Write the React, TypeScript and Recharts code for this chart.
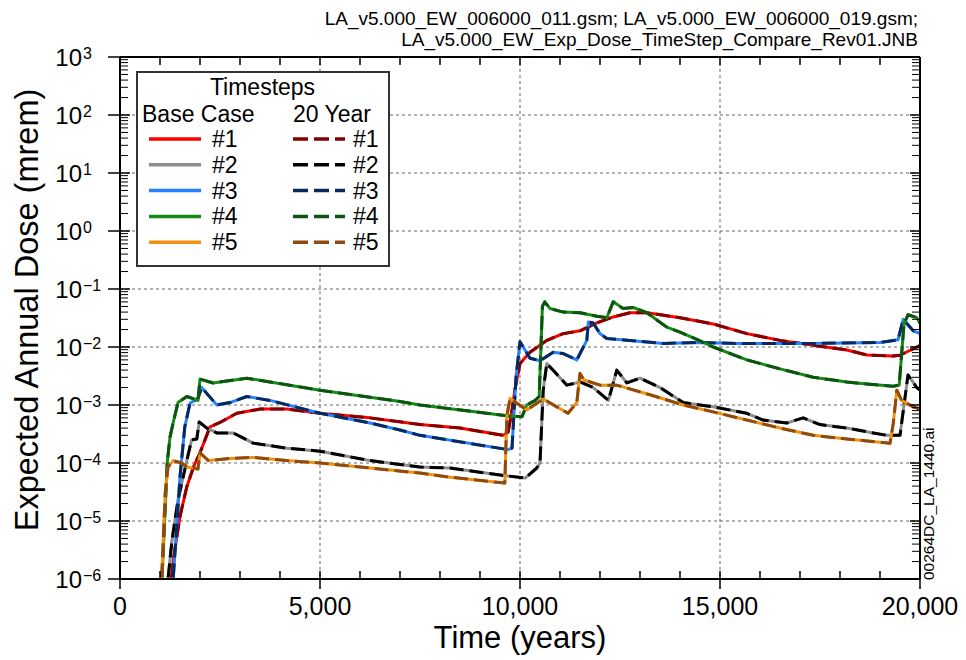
import { CartesianGrid, Legend, Line, LineChart, XAxis, YAxis } from "recharts";

const FONT = "'Liberation Sans', Arial, sans-serif";

// [time (years), expected annual dose (mrem)]
const dose1: [number, number][] = [
  [1150, 1e-7], [1330, 2.1e-6], [1500, 1.2e-5], [1670, 3.9e-5], [1850, 9e-5], [2000, 1.5e-4],
  [2250, 4.2e-4], [2500, 5e-4], [2920, 7.2e-4], [3500, 8.5e-4], [4170, 8.5e-4], [5000, 7.2e-4],
  [6250, 6.0e-4], [7500, 4.6e-4], [8500, 4.0e-4], [9580, 3.0e-4], [9700, 3.4e-4], [9800, 8e-4],
  [9870, 1.8e-3], [10000, 5.2e-3], [10250, 8.1e-3], [10670, 1.3e-2], [11080, 1.7e-2], [11500, 1.9e-2],
  [11920, 2.6e-2], [12330, 3.3e-2], [12750, 3.9e-2], [13170, 3.9e-2], [14000, 3.2e-2], [14830, 2.5e-2],
  [15670, 1.7e-2], [16500, 1.3e-2], [17330, 1.07e-2], [18170, 8.9e-3], [18670, 7.3e-3], [19330, 7.0e-3],
  [19500, 7.2e-3], [19920, 1.0e-2], [20000, 1.05e-2],
];
const dose2: [number, number][] = [
  [1050, 1e-7], [1200, 1e-6], [1300, 4.7e-6], [1450, 2.3e-5], [1670, 1.1e-4], [1790, 2.5e-4],
  [1920, 2.6e-4], [1980, 5.1e-4], [2170, 4e-4], [2420, 3.3e-4], [2830, 3.3e-4], [3330, 2.2e-4],
  [4170, 1.8e-4], [5000, 1.6e-4], [6250, 1.1e-4], [7500, 8.5e-5], [8250, 8.2e-5], [9500, 6.2e-5],
  [10130, 5.5e-5], [10420, 8.2e-5], [10500, 1e-4], [10580, 1.8e-3], [10670, 5.2e-3], [10870, 3.7e-3],
  [11170, 2.2e-3], [11500, 2.5e-3], [11830, 2.0e-3], [12210, 1.2e-3], [12420, 4.0e-3], [12670, 2.4e-3],
  [13000, 2.9e-3], [13500, 2.0e-3], [14080, 1.1e-3], [14500, 1.0e-3], [14830, 9.3e-4], [15670, 7.2e-4],
  [16080, 5.5e-4], [16670, 4.9e-4], [17080, 6e-4], [17500, 4.6e-4], [18170, 4.0e-4], [18830, 3.3e-4],
  [19170, 3.0e-4], [19500, 3.0e-4], [19700, 3.3e-3], [19920, 2.0e-3], [20000, 1.8e-3],
];
const dose3: [number, number][] = [
  [1150, 1e-7], [1330, 1e-6], [1450, 1.7e-5], [1500, 5.8e-5], [1620, 4.2e-4], [1750, 1.07e-3],
  [1950, 1.3e-3], [2040, 2.0e-3], [2420, 1.0e-3], [2750, 1.1e-3], [3170, 1.4e-3], [3750, 1.2e-3],
  [5000, 7.2e-4], [6250, 4.9e-4], [7000, 3.7e-4], [7500, 3.0e-4], [9700, 1.7e-4], [9800, 1.8e-4],
  [9900, 3e-3], [10000, 1.23e-2], [10250, 6.4e-3], [10500, 5.8e-3], [10830, 8.1e-3], [11080, 7.7e-3],
  [11420, 6.0e-3], [11670, 1.3e-2], [11710, 2.7e-2], [11830, 2.6e-2], [12000, 1.7e-2], [12170, 1.4e-2],
  [12750, 1.3e-2], [13580, 1.15e-2], [14420, 1.2e-2], [15500, 1.15e-2], [17300, 1.15e-2], [19000, 1.2e-2],
  [19450, 1.33e-2], [19580, 3.0e-2], [19830, 1.9e-2], [20000, 1.7e-2],
];
const dose4: [number, number][] = [
  [900, 1e-7], [1050, 1e-6], [1180, 1e-4], [1250, 2.8e-4], [1330, 5e-4], [1450, 1.1e-3],
  [1670, 1.4e-3], [1950, 1.2e-3], [2000, 2.8e-3], [2330, 2.4e-3], [3170, 2.9e-3], [3750, 2.5e-3],
  [5000, 1.8e-3], [7000, 1.15e-3], [7500, 1.0e-3], [9670, 6.5e-4], [10050, 6.3e-4], [10170, 1.0e-3],
  [10380, 1.2e-3], [10480, 1.4e-3], [10560, 5.0e-2], [10620, 6.0e-2], [10750, 4.6e-2], [11080, 4.0e-2],
  [11500, 3.9e-2], [11920, 3.4e-2], [12170, 3.2e-2], [12330, 6.0e-2], [12580, 4.6e-2], [12830, 4.8e-2],
  [13170, 3.9e-2], [13670, 2.2e-2], [14000, 1.8e-2], [14420, 1.35e-2], [14830, 1.0e-2], [15670, 6.0e-3],
  [16500, 4.2e-3], [17330, 3.0e-3], [18170, 2.5e-3], [18670, 2.3e-3], [19330, 2.1e-3], [19480, 2.2e-3],
  [19600, 2.5e-2], [19700, 3.6e-2], [19920, 3.2e-2], [20000, 2.6e-2],
];
const dose5: [number, number][] = [
  [900, 1e-7], [1040, 1e-6], [1130, 3e-5], [1200, 8.5e-5], [1330, 1.1e-4], [1540, 1.0e-4],
  [1670, 8.5e-5], [1950, 7.9e-5], [2000, 1.5e-4], [2210, 1.1e-4], [2750, 1.2e-4], [3330, 1.25e-4],
  [4170, 1.1e-4], [5000, 1.0e-4], [6250, 8.2e-5], [7500, 6.7e-5], [8250, 5.7e-5], [9620, 4.5e-5],
  [9670, 6.3e-4], [9750, 1.3e-3], [10170, 8.2e-4], [10580, 1.27e-3], [11200, 7.2e-4], [11420, 1.1e-3],
  [11500, 3.5e-3], [11600, 2.7e-3], [12000, 2.2e-3], [12420, 2.2e-3], [13250, 1.5e-3], [14080, 1.0e-3],
  [14830, 7.6e-4], [15670, 5.5e-4], [16500, 4.0e-4], [17330, 3.0e-4], [18170, 2.6e-4], [19250, 2.2e-4],
  [19330, 4.7e-4], [19420, 1.8e-3], [19540, 1.2e-3], [19830, 9.3e-4], [20000, 8.5e-4],
];

const seriesNames = ["#1", "#2", "#3", "#4", "#5"];
const seriesData = [dose1, dose2, dose3, dose4, dose5];
const baseColors = ["#ff0000", "#8c8c8c", "#2680ff", "#158a15", "#f0920f"];
const twentyColors = ["#820000", "#000000", "#07295e", "#0c5410", "#8f4a0f"];

const xMajor = [0, 5000, 10000, 15000, 20000];
const xMajorLabels = ["0", "5,000", "10,000", "15,000", "20,000"];
const xTicks = Array.from({ length: 21 }, (_, i) => i * 1000);

const yDecades = [1e-6, 1e-5, 1e-4, 1e-3, 1e-2, 1e-1, 1e0, 1e1, 1e2, 1e3];
const yExponents = ["\u22126", "\u22125", "\u22124", "\u22123", "\u22122", "\u22121", "0", "1", "2", "3"];
const yTicks = [
  ...yDecades.slice(0, -1).flatMap((d) => [1, 2, 3, 4, 5, 6, 7, 8, 9].map((m) => m * d)),
  1e3,
];

const decadeIndex = (v: number) => yDecades.findIndex((d) => Math.abs(v / d - 1) < 1e-9);

const BottomTick = ({ x, y, payload }: any) => {
  const i = xMajor.indexOf(payload.value);
  const major = i >= 0;
  return (
    <g>
      <line x1={x} x2={x} y1={y - 8} y2={major ? y + 10 : y} stroke="#000" strokeWidth={1.5} />
      {major && (
        <text x={x} y={y + 36} textAnchor="middle" fontSize={25} fontFamily={FONT} fill="#000">
          {xMajorLabels[i]}
        </text>
      )}
    </g>
  );
};

const TopTick = ({ x, y }: any) => (
  <line x1={x} x2={x} y1={y} y2={y + 8} stroke="#000" strokeWidth={1.5} />
);

const LeftTick = ({ x, y, payload }: any) => {
  const i = decadeIndex(payload.value);
  if (i < 0) return <line x1={x} x2={x + 8} y1={y} y2={y} stroke="#000" strokeWidth={1} />;
  return (
    <g>
      <line x1={x - 12} x2={x + 10} y1={y} y2={y} stroke="#000" strokeWidth={1.5} />
      <text x={x - 38} y={y + 8.5} textAnchor="end" fontSize={24} fontFamily={FONT} fill="#000">
        10
      </text>
      <text x={x - 37} y={y + 2} textAnchor="start" fontSize={16} fontFamily={FONT} fill="#000">
        {yExponents[i]}
      </text>
    </g>
  );
};

const RightTick = ({ x, y, payload }: any) => {
  const major = decadeIndex(payload.value) >= 0;
  return <line x1={x - (major ? 10 : 8)} x2={x} y1={y} y2={y} stroke="#000" strokeWidth={major ? 1.5 : 1} />;
};

const HeaderLabel = () => (
  <g fontFamily={FONT} fontSize={19} fill="#000">
    <text x={918} y={25} textAnchor="end">
      LA_v5.000_EW_006000_011.gsm; LA_v5.000_EW_006000_019.gsm;
    </text>
    <text x={918} y={46} textAnchor="end">
      LA_v5.000_EW_Exp_Dose_TimeStep_Compare_Rev01.JNB
    </text>
  </g>
);

const FileTag = () => (
  <text x={934} y={580} transform="rotate(-90 934 580)" fontFamily={FONT} fontSize={15.5} fill="#000">
    00264DC_LA_1440.ai
  </text>
);

const YTitle = () => (
  <text x={38} y={310} transform="rotate(-90 38 310)" textAnchor="middle" fontFamily={FONT} fontSize={32.5} fill="#000">
    Expected Annual Dose (mrem)
  </text>
);

const XTitle = () => (
  <text x={520} y={648} textAnchor="middle" fontFamily={FONT} fontSize={31} fill="#000">
    Time (years)
  </text>
);

const LegendBox = () => (
  <svg width={254} height={196} style={{ display: "block" }} fontFamily={FONT}>
    <rect x={1} y={1} width={252} height={194} fill="#fff" stroke="#333" strokeWidth={2} />
    <text x={126.5} y={24} textAnchor="middle" fontSize={23} fill="#000">Timesteps</text>
    <text x={6} y={51} fontSize={23} fill="#000">Base Case</text>
    <text x={157} y={51} fontSize={23} fill="#000">20 Year</text>
    {seriesNames.map((name, i) => {
      const y = 68 + i * 25.8;
      return (
        <g key={name}>
          <line x1={13} x2={65} y1={y} y2={y} stroke={baseColors[i]} strokeWidth={3.5} />
          <text x={76} y={y + 8} fontSize={23} fill="#000">{name}</text>
          <line x1={157} x2={209} y1={y} y2={y} stroke={twentyColors[i]} strokeWidth={3.5} strokeDasharray="15 6" />
          <text x={217} y={y + 8} fontSize={23} fill="#000">{name}</text>
        </g>
      );
    })}
  </svg>
);

const toPoints = (arr: [number, number][]) => arr.map(([t, v]) => ({ t, v }));

export default function App() {
  return (
    <div style={{ position: "absolute", left: 0, top: 0, width: 966, height: 660, background: "#fff" }}>
      <LineChart width={966} height={660} margin={{ top: 0, right: 0, bottom: 0, left: 0 }}>
        <CartesianGrid
          horizontalValues={yDecades.slice(1, -1)}
          verticalValues={[5000, 10000, 15000]}
          stroke="#666"
          strokeDasharray="3 3"
        />
        <XAxis
          dataKey="t"
          type="number"
          domain={[0, 20000]}
          ticks={xTicks}
          interval={0}
          allowDataOverflow
          height={81}
          tickSize={0}
          tickMargin={0}
          tickLine={false}
          axisLine={{ stroke: "#000", strokeWidth: 2 }}
          tick={<BottomTick />}
          label={<XTitle />}
        />
        <XAxis
          xAxisId="top"
          orientation="top"
          dataKey="t"
          type="number"
          domain={[0, 20000]}
          ticks={xTicks}
          interval={0}
          allowDataOverflow
          height={57}
          tickSize={0}
          tickMargin={0}
          tickLine={false}
          axisLine={{ stroke: "#000", strokeWidth: 2 }}
          tick={<TopTick />}
          label={<HeaderLabel />}
        />
        <YAxis
          type="number"
          scale="log"
          domain={[1e-6, 1e3]}
          ticks={yTicks}
          interval={0}
          allowDataOverflow
          width={120}
          tickSize={0}
          tickMargin={0}
          tickLine={false}
          axisLine={{ stroke: "#000", strokeWidth: 2 }}
          tick={<LeftTick />}
          label={<YTitle />}
        />
        <YAxis
          yAxisId="right"
          orientation="right"
          type="number"
          scale="log"
          domain={[1e-6, 1e3]}
          ticks={yTicks}
          interval={0}
          allowDataOverflow
          width={46}
          tickSize={0}
          tickMargin={0}
          tickLine={false}
          axisLine={{ stroke: "#000", strokeWidth: 2 }}
          tick={<RightTick />}
          label={<FileTag />}
        />
        {seriesData.flatMap((d, i) => [
          <Line
            key={`base${i}`}
            data={toPoints(d)}
            dataKey="v"
            type="linear"
            stroke={baseColors[i]}
            strokeWidth={3}
            strokeLinejoin="round"
            dot={false}
            activeDot={false}
            isAnimationActive={false}
          />,
          <Line
            key={`tw${i}`}
            data={toPoints(d)}
            dataKey="v"
            type="linear"
            stroke={twentyColors[i]}
            strokeWidth={3}
            strokeDasharray="14 6"
            strokeLinejoin="round"
            dot={false}
            activeDot={false}
            isAnimationActive={false}
          />,
        ])}
        <Legend
          layout="vertical"
          align="center"
          verticalAlign="middle"
          content={<LegendBox />}
          wrapperStyle={{ left: 136, top: 71, width: 254, height: 196, margin: 0, padding: 0 }}
        />
      </LineChart>
    </div>
  );
}
